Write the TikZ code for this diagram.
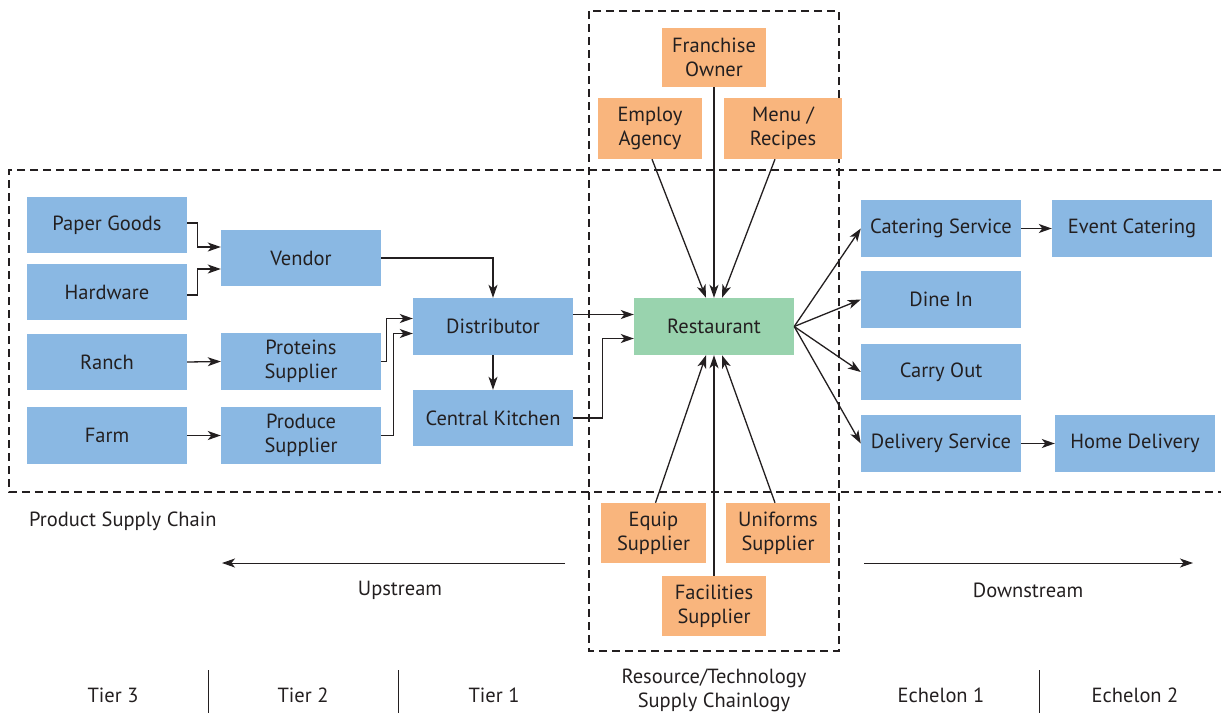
\documentclass[tikz,border=0pt]{standalone}
\usepackage{fontspec}
\setmainfont{PT Sans}
\usetikzlibrary{arrows.meta}
\definecolor{bl}{HTML}{8AB8E3}
\definecolor{gr}{HTML}{99D3AE}
\definecolor{og}{HTML}{F9B57D}
\definecolor{tx}{HTML}{231F20}
\newcommand\bx[7]{%
  \pgfmathsetmacro\bxw{#4-#2}\pgfmathsetmacro\bxh{#5-#3}%
  \pgfmathsetmacro\bxx{(#2+#4)/2}\pgfmathsetmacro\bxy{(#3+#5)/2}%
  \node[box,fill=#6,minimum width=\bxw pt,minimum height=\bxh pt] (#1) at (\bxx,\bxy) {#7};}
\begin{document}
\begin{tikzpicture}[x=1pt,y=-1pt,
  box/.style={inner sep=0pt,align=center,text=tx,font=\fontsize{20.5}{24}\selectfont},
  lbl/.style={text=tx,inner sep=0pt,align=center,font=\fontsize{20.5}{24}\selectfont},
  arr/.style={draw=tx,line width=1.3pt,-{Stealth[length=13pt,width=9pt,inset=3.5pt]}},
  ln/.style={draw=tx,line width=1.3pt},
  dsh/.style={draw=tx,line width=1.2pt,dash pattern=on 8pt off 5pt}]
\useasboundingbox (0,0) rectangle (1221,713);
% dashed regions
\draw[dsh] (1221,170) -- (9,170) -- (9,492) -- (1221,492);
\draw[dsh] (589,11) rectangle (839,651);
% boxes
\bx{pg}{27}{197}{187}{253}{bl}{Paper Goods}
\bx{hw}{27}{264}{187}{320}{bl}{Hardware}
\bx{ven}{221}{230}{381}{286}{bl}{Vendor}
\bx{ranch}{27}{334}{187}{390}{bl}{Ranch}
\bx{prot}{221}{333}{381}{390}{bl}{Proteins\\Supplier}
\bx{farm}{27}{407}{187}{464}{bl}{Farm}
\bx{prod}{221}{407}{381}{464}{bl}{Produce\\Supplier}
\bx{dist}{413}{298}{573}{355}{bl}{Distributor}
\bx{ck}{413}{390}{573}{446}{bl}{Central Kitchen}
\bx{rest}{634}{298}{794}{355}{gr}{Restaurant}
\bx{fo}{662}{28}{766}{87}{og}{Franchise\\Owner}
\bx{ea}{598}{98}{702}{159}{og}{Employ\\Agency}
\bx{mr}{724}{98}{842}{159}{og}{Menu /\\Recipes}
\bx{eq}{601}{503}{706}{563}{og}{Equip\\Supplier}
\bx{un}{726}{503}{830}{563}{og}{Uniforms\\Supplier}
\bx{fa}{662}{576}{766}{636}{og}{Facilities\\Supplier}
\bx{cs}{861}{200}{1021}{257}{bl}{Catering Service}
\bx{ec}{1052}{200}{1212}{257}{bl}{Event Catering}
\bx{di}{861}{271}{1021}{328}{bl}{Dine In}
\bx{co}{861}{344}{1021}{400}{bl}{Carry Out}
\bx{ds}{861}{415}{1021}{472}{bl}{Delivery Service}
\bx{hd}{1055}{415}{1215}{472}{bl}{Home Delivery}
% left connectors
\draw[arr] ([yshift=2pt]pg.east) -- ++(10,0) |- ([yshift=11pt]ven.west);
\draw[arr] ([yshift=-3pt]hw.east) -- ++(10,0) |- ([yshift=-11pt]ven.west);
\draw[arr] (ven.east) -| (dist.north);
\draw[arr] (ranch.east) -- (prot.west);
\draw[arr] (farm.east) -- (prod.west);
\draw[arr] (prot.east) -- ++(5,0) |- ([yshift=8pt]dist.west);
\draw[arr] (prod.east) -- ++(12,0) |- ([yshift=-7pt]dist.west);
\draw[arr] (dist.south) -- (ck.north);
\draw[arr] ([yshift=12pt]dist.east) -- ([yshift=12pt]rest.west);
\draw[arr] (ck.east) -- ++(29,0) |- ([yshift=-12pt]rest.west);
% resource connectors
\draw[arr] (fo.south) -- (rest.north);
\draw[arr] ([xshift=2pt]ea.south) -- ([xshift=-8pt]rest.north);
\draw[arr] ([xshift=-8pt]mr.south) -- ([xshift=8pt]rest.north);
\draw[arr] ([xshift=2pt]eq.north) -- ([xshift=-8pt]rest.south);
\draw[arr] (fa.north) -- (rest.south);
\draw[arr] ([xshift=-3pt]un.north) -- ([xshift=8pt]rest.south);
% downstream connectors
\draw[arr] (rest.east) -- (cs.west);
\draw[arr] (rest.east) -- (di.west);
\draw[arr] (rest.east) -- (co.west);
\draw[arr] (rest.east) -- (ds.west);
\draw[arr] (cs.east) -- (ec.west);
\draw[arr] (ds.east) -- (hd.west);
% direction arrows
\coordinate (ua) at (565,563); \coordinate (ub) at (222,563);
\coordinate (da) at (864,563); \coordinate (db) at (1193,563);
\draw[arr,line width=1pt] (ua) -- (ub);
\draw[arr,line width=1pt] (da) -- (db);
\node[lbl] (up) at (400,590) {Upstream};
\node[lbl] (down) at (1028,590) {Downstream};
\node[lbl,anchor=west] (psc) at (29,521) {Product Supply Chain};
% tiers
\node[lbl] (t3) at (113,695) {Tier 3};
\node[lbl] (t2) at (303,695) {Tier 2};
\node[lbl] (t1) at (494,695) {Tier 1};
\node[lbl] (rt) at (714,690) {Resource/Technology\\Supply Chainlogy};
\node[lbl] (e1) at (941,695) {Echelon 1};
\node[lbl] (e2) at (1135,695) {Echelon 2};
\coordinate (s1a) at (208,670); \coordinate (s1b) at (208,713);
\coordinate (s2a) at (398,670); \coordinate (s2b) at (398,713);
\coordinate (s3a) at (1039,670); \coordinate (s3b) at (1039,713);
\draw[ln,line width=1pt] (s1a) -- (s1b);
\draw[ln,line width=1pt] (s2a) -- (s2b);
\draw[ln,line width=1pt] (s3a) -- (s3b);
\end{tikzpicture}
\end{document}
